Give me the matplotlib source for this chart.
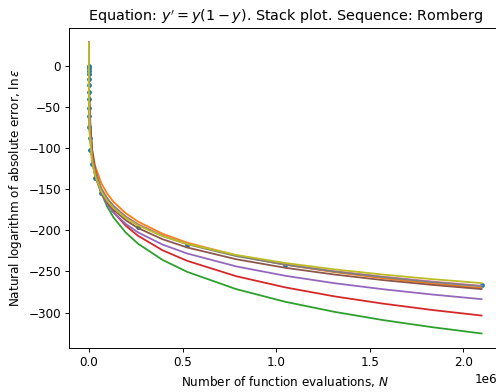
import matplotlib
matplotlib.use("Agg")
import matplotlib.pyplot as plt

# number of function evaluations (Romberg points)
n_points = [2, 4, 8, 16, 32, 64, 128, 256, 512, 1024, 2048, 4096, 8192, 16384,
            32768, 65536, 131072, 262144, 524288, 1048576, 2097152]
err_points = [-1, -3, -6, -10.5, -16, -24, -32, -41, -51, -61.5, -74, -88, -103,
              -120, -136.5, -155, -175, -196, -218, -242, -266]

# grid used for the curves
n_grid = [1, 4, 16, 64, 256, 1024, 4096, 16384, 32768, 65536, 98304, 131072, 196608,
          262144, 393216, 524288, 786432, 1048576, 1310720, 1572864, 1835008, 2097152]

curve_orange = [28, 26.5, 19.3, 6.5, -12.0, -36.2, -66.0, -101.5, -121.4, -142.6, -155.7,
                -165.4, -179.3, -189.5, -204.2, -215.0, -230.5, -241.9, -250.9, -258.3,
                -264.7, -270.3]
curve_green = [28, 26, 25, 22, 6.3, -20.8, -56.7, -101.2, -126.7, -154.4, -171.6,
               -184.3, -202.8, -216.3, -236.0, -250.5, -271.5, -286.9, -299.1, -309.2,
               -317.8, -325.4]
curve_red = [28, 25, 21, 15.9, -2.8, -28.9, -62.3, -103.0, -126.2, -151.2, -166.6,
             -178.0, -194.5, -206.7, -224.3, -237.1, -255.8, -269.4, -280.3, -289.2,
             -296.9, -303.6]
curve_purple = [28, 24.1, 14.8, 0.0, -20.2, -45.8, -76.9, -113.3, -133.6, -155.2, -168.5,
                -178.2, -192.3, -202.6, -217.4, -228.2, -243.9, -255.3, -264.3, -271.7,
                -278.1, -283.7]
curve_brown = [28, 21.6, 10.5, -5.2, -25.6, -50.7, -80.3, -114.7, -133.6, -153.6, -165.9,
               -174.9, -187.9, -197.3, -210.9, -220.9, -235.2, -245.6, -253.8, -260.6,
               -266.4, -271.5]
curve_pink = [28, 22.7, 12.6, -2.3, -22.0, -46.5, -75.9, -110.0, -128.9, -148.9, -161.3,
              -170.2, -183.3, -192.7, -206.4, -216.4, -230.8, -241.3, -249.6, -256.4,
              -262.3, -267.4]
curve_gray = [28, 22.6, 12.5, -2.5, -22.3, -46.9, -76.4, -110.5, -129.4, -149.4, -161.8,
              -170.8, -183.8, -193.3, -207.0, -217.0, -231.4, -241.9, -250.2, -257.0,
              -263.0, -268.1]
curve_olive = [28, 20.1, 7.9, -8.4, -28.9, -53.6, -82.5, -115.5, -133.6, -152.7, -164.4,
               -173.0, -185.2, -194.2, -207.1, -216.5, -230.0, -239.8, -247.5, -253.9,
               -259.4, -264.2]

curves = [curve_orange, curve_green, curve_red, curve_purple,
          curve_brown, curve_pink, curve_gray, curve_olive]

DPI = 86
fig = plt.figure(figsize=(497 / DPI, 392 / DPI), dpi=DPI)
ax = fig.add_axes([0.1394, 0.1122, 0.869, 0.8163])

ax.plot(n_points, err_points, "o", color="C0", markersize=3)
for i, ys in enumerate(curves):
    ax.plot(n_grid, ys, color=f"C{i + 1}", linewidth=1.5)

ax.set_xlabel("Number of function evaluations, $N$")
ax.set_ylabel(r"Natural logarithm of absolute error, $\ln\varepsilon$")
ax.set_title("Equation: $y' = y(1-y)$. Stack plot. Sequence: Romberg")

# the "1e6" multiplier sits a little inside the (cropped) right edge
ax.xaxis.get_offset_text().set_x(0.99)

fig.savefig("out.png", dpi=DPI)
